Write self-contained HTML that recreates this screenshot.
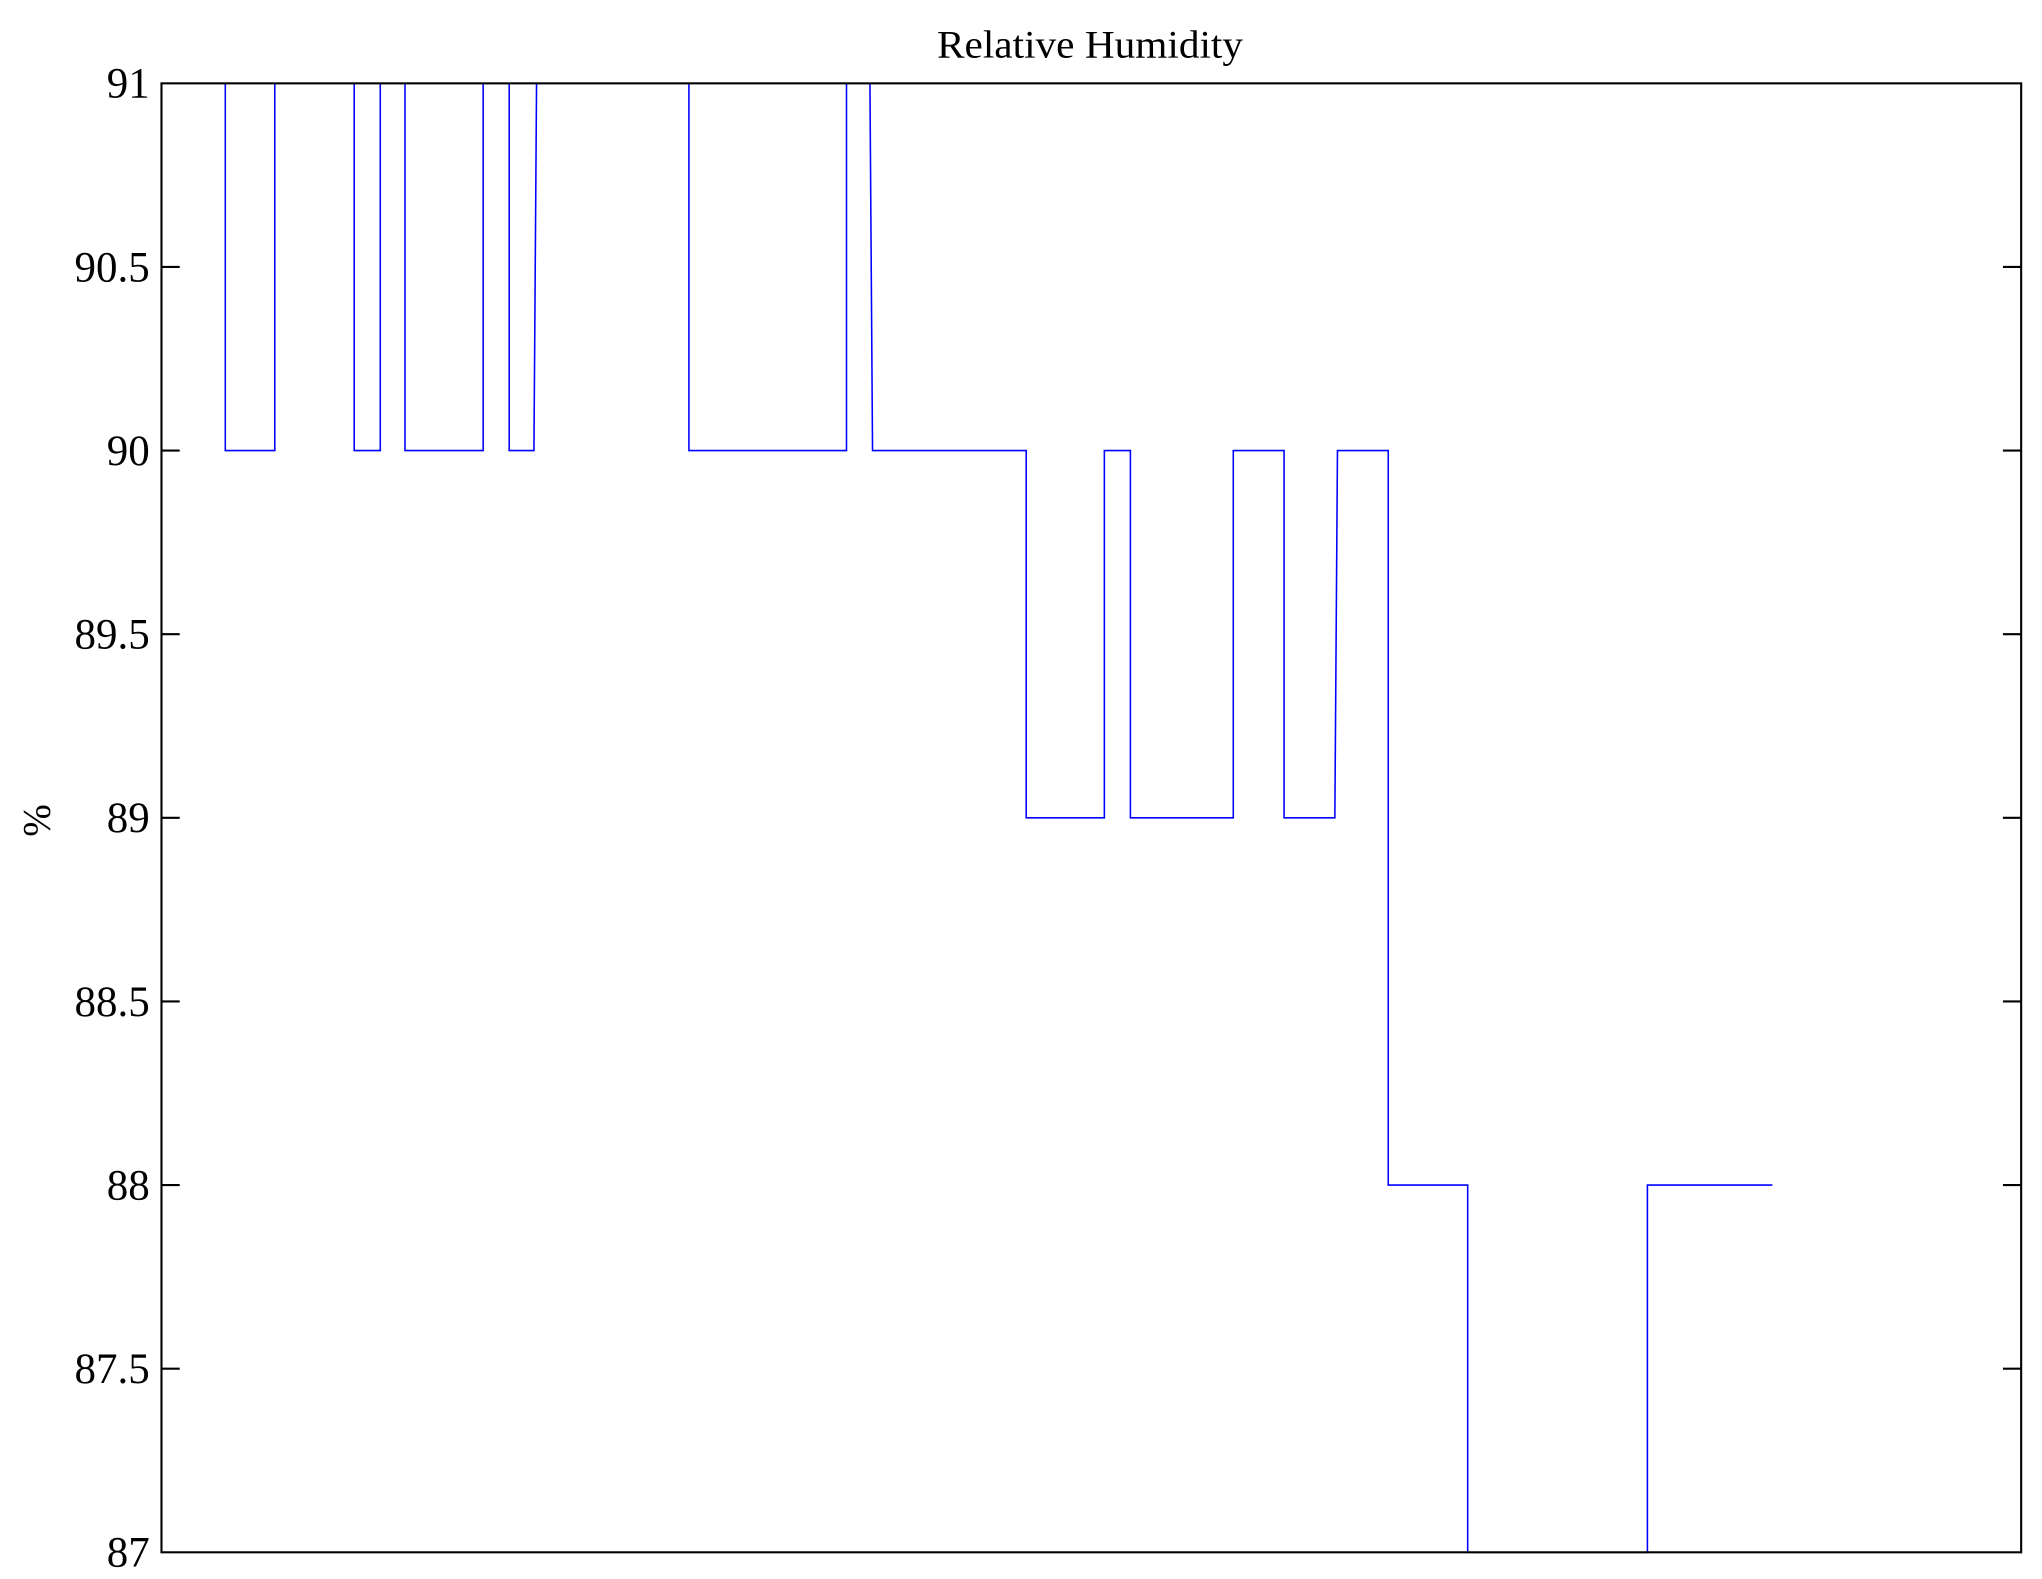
<!DOCTYPE html>
<html><head><meta charset="utf-8"><style>
html,body{margin:0;padding:0;background:#fff;}
svg{display:block;}
text{font-family:"Liberation Serif",serif;fill:#000;}
</style></head><body>
<svg width="2042" height="1579" viewBox="0 0 1568 1212.5" preserveAspectRatio="none" xmlns="http://www.w3.org/2000/svg">
<rect x="0" y="0" width="1568" height="1212.5" fill="#fff"/>
<text x="837" y="44" font-size="30" text-anchor="middle" textLength="235" lengthAdjust="spacingAndGlyphs">Relative Humidity</text>
<path fill="none" stroke="#0000ff" stroke-width="1.2" d="M173,64 L173,346 L211,346 L211,64 L272,64 L272,346 L292,346 L292,64 L311,64 L311,346 L371,346 L371,64 L391,64 L391,346 L410,346 L412,64 L529,64 L529,346 L650,346 L650,64 L668,64 L670,346 L788,346 L788,628 L848,628 L848,346 L868,346 L868,628 L947,628 L947,346 L986,346 L986,628 L1025,628 L1027,346 L1066,346 L1066,910 L1127,910 L1127,1192 L1265,1192 L1265,910 L1361,910"/>
<rect x="124" y="64" width="1428" height="1128" fill="none" stroke="#000" stroke-width="1.6"/>
<g stroke="#000" stroke-width="1.6">
<line x1="124" y1="205" x2="138" y2="205"/><line x1="1538" y1="205" x2="1552" y2="205"/>
<line x1="124" y1="346" x2="138" y2="346"/><line x1="1538" y1="346" x2="1552" y2="346"/>
<line x1="124" y1="487" x2="138" y2="487"/><line x1="1538" y1="487" x2="1552" y2="487"/>
<line x1="124" y1="628" x2="138" y2="628"/><line x1="1538" y1="628" x2="1552" y2="628"/>
<line x1="124" y1="769" x2="138" y2="769"/><line x1="1538" y1="769" x2="1552" y2="769"/>
<line x1="124" y1="910" x2="138" y2="910"/><line x1="1538" y1="910" x2="1552" y2="910"/>
<line x1="124" y1="1051" x2="138" y2="1051"/><line x1="1538" y1="1051" x2="1552" y2="1051"/>
</g>
<g font-size="33" text-anchor="end">
<text x="115" y="75">91</text>
<text x="115" y="216">90.5</text>
<text x="115" y="357">90</text>
<text x="115" y="498">89.5</text>
<text x="115" y="639">89</text>
<text x="115" y="780">88.5</text>
<text x="115" y="921">88</text>
<text x="115" y="1062">87.5</text>
<text x="115" y="1203">87</text>
</g>
<text x="0" y="0" font-size="30" text-anchor="middle" transform="translate(38,630) rotate(-90)">%</text>
</svg>
</body></html>
